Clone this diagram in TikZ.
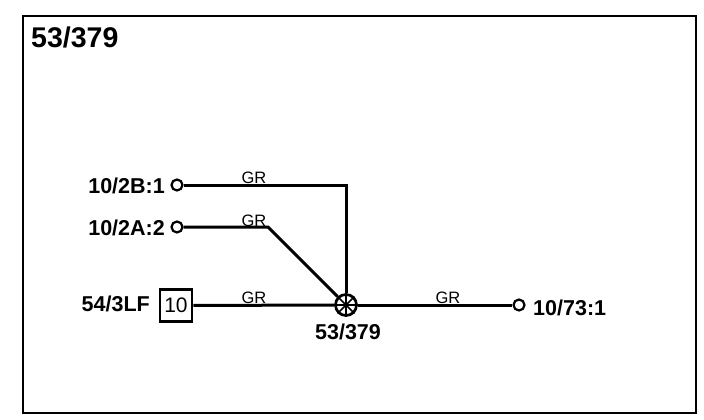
\documentclass[tikz,border=0pt]{standalone}
\usepackage{fontspec}
\setmainfont{Liberation Sans}
\begin{document}
\begin{tikzpicture}[x=1pt,y=-1pt,
  wire/.style={line width=3pt,line join=miter},
  pin/.style={circle,draw,line width=2.2pt,fill=white,minimum size=11pt,inner sep=0pt},
  lbl/.style={font=\bfseries\fontsize{21.5}{24}\selectfont,inner sep=0pt},
  wirelabel/.style={font=\fontsize{16.5}{18}\selectfont,inner sep=0pt}]
\useasboundingbox (0,0) rectangle (704,420);
\node[draw,line width=2.4pt,minimum width=673pt,minimum height=397pt,inner sep=0pt,anchor=north west] (frame) at (22,15) {};
\node[font=\bfseries\fontsize{28.5}{32}\selectfont,inner sep=0pt,anchor=base west] (title) at (31,48) {53/379};
\node[pin] (a) at (177,185) {};
\node[pin] (b) at (177,227) {};
\node[pin] (d) at (519,305) {};
\node[draw,line width=2.7pt,minimum width=32pt,minimum height=32pt,inner sep=0pt,font=\fontsize{21}{24}\selectfont] (c) at (176,305.5) {10};
\node[circle,draw,line width=2.7pt,fill=white,minimum size=21pt,inner sep=0pt] (hub) at (346,305) {};
\coordinate (ab) at (346,185);
\coordinate (bb) at (268,227);
\draw[wire] (a) -- (ab) -- (hub);
\draw[wire] (b) -- (bb) -- (hub);
\draw[wire] (c) -- (hub);
\draw[wire] (hub) -- (d);
\draw[line width=1.6pt] (hub.north) -- (hub.south) (hub.west) -- (hub.east) (hub.north west) -- (hub.south east) (hub.north east) -- (hub.south west);
\node[lbl,anchor=base east] (la) at (165,193) {10/2B:1};
\node[lbl,anchor=base east] (lb) at (165,235) {10/2A:2};
\node[lbl,anchor=base east] (lc) at (150,311) {54/3LF};
\node[lbl,anchor=base west] (ld) at (533,315) {10/73:1};
\node[lbl,anchor=base] (lh) at (348,339) {53/379};
\node[wirelabel,anchor=base] (g1) at (254,183) {GR};
\node[wirelabel,anchor=base] (g2) at (254,226) {GR};
\node[wirelabel,anchor=base] (g3) at (254,303) {GR};
\node[wirelabel,anchor=base] (g4) at (448,303) {GR};
\end{tikzpicture}
\end{document}
